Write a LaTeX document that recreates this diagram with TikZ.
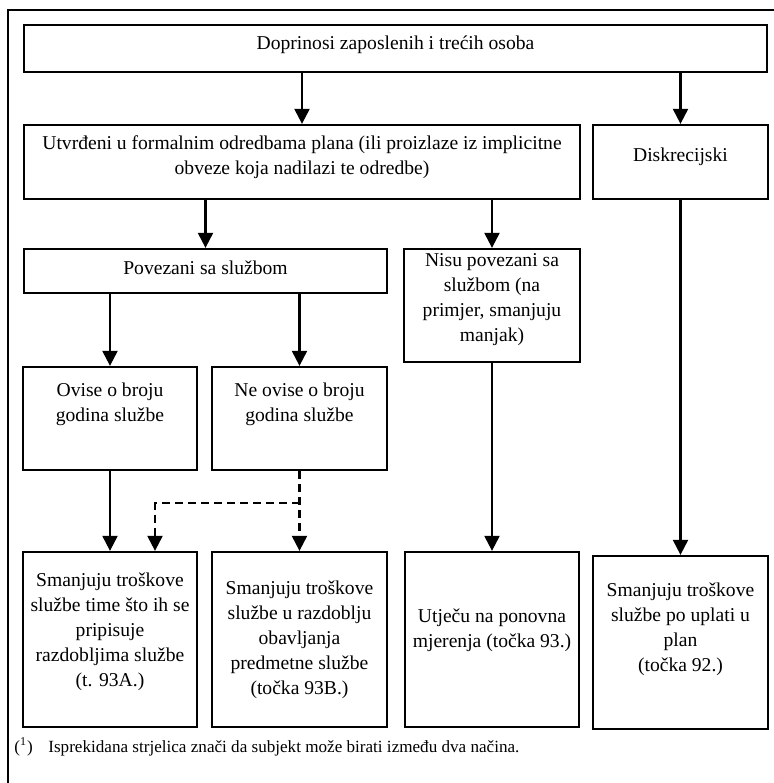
\documentclass[tikz,border=0pt]{standalone}
\usepackage{fontspec}
\setmainfont{Liberation Serif}
\usepackage{tikz}
\usetikzlibrary{arrows.meta,calc,positioning}
\tikzset{
  okvir/.style    = {draw, line width=1.15pt, inner sep=0pt},
  tekst/.style    = {font=\fontsize{9.8}{12.5}\selectfont, align=center, inner sep=0pt},
  biljeska/.style = {font=\fontsize{8.55}{10}\selectfont, inner sep=0pt, anchor=west},
  strelica/.style = {-{Triangle[length=7.5pt,width=7.5pt]}, line width=1.1pt},
  crtkana/.style  = {strelica, dash pattern=on 4pt off 2.5pt},
}

\begin{document}
\begin{tikzpicture}[x=0.5pt,y=-0.5pt]
  \useasboundingbox (0,0) rectangle (774,783);

  % ---- outer frame -------------------------------------------------------
  \draw[line width=1.15pt] (8,783) -- (8,10) -- (774,10);

  % ---- boxes: name / centre x / centre y / width / height ----------------
  \foreach \ime/\x/\y/\w/\h in {dopr/395.5/48.5/371.5/23.5,
      utvr/302/162/278/37, diskr/680.5/162/87.5/37,
      povez/205.5/271/181.5/22, nisu/492/305.5/88/56.5,
      ovise/110/418.5/87/51.5, neovise/299.5/418.5/87.5/51.5,
      atr/110/639.5/87/87.5, btr/299.5/639.5/87.5/87.5,
      utjecu/492/639.5/87/87.5, uplata/680.5/642.5/87.5/86.5} {
    \node[okvir, minimum width=\w pt, minimum height=\h pt] (\ime) at (\x,\y) {};
  }

  % ---- box texts ---------------------------------------------------------
  \node[tekst] (dopr-t) at ([yshift=1.75pt]dopr.center) {Doprinosi zaposlenih i trećih osoba};
  \node[tekst] (utvr-t) at ([yshift=2.25pt]utvr.center)
    {Utvrđeni u formalnim odredbama plana (ili proizlaze iz implicitne\\
     obveze koja nadilazi te odredbe)};
  \node[tekst] (diskr-t) at ([yshift=2.5pt]diskr.center) {Diskrecijski};
  \node[tekst] (povez-t) at ([yshift=1.5pt]povez.center) {Povezani sa službom};
  \node[tekst] (nisu-t) at ([yshift=3pt]nisu.center)
    {Nisu povezani sa\\ službom (na\\ primjer, smanjuju\\ manjak)};
  \node[tekst] (ovise-t) at ([yshift=7pt]ovise.center) {Ovise o broju\\ godina službe};
  \node[tekst] (neovise-t) at ([yshift=7pt]neovise.center) {Ne ovise o broju\\ godina službe};
  \node[tekst] (atr-t) at ([yshift=4pt]atr.center)
    {Smanjuju troškove\\ službe time što ih se\\ pripisuje\\ razdobljima službe\\ (t. 93A.)};
  \node[tekst] (btr-t) at (btr.center)
    {Smanjuju troškove\\ službe u razdoblju\\ obavljanja\\ predmetne službe\\ (točka 93B.)};
  \node[tekst] (utjecu-t) at ([yshift=4.5pt]utjecu.center)
    {Utječu na ponovna\\ mjerenja (točka 93.)};
  \node[tekst] (uplata-t) at ([yshift=6.5pt]uplata.center)
    {Smanjuju troškove\\ službe po uplati u\\ plan\\ (točka 92.)};

  % ---- arrows ------------------------------------------------------------
  \draw[strelica] (utvr.north |- dopr.south) -- (utvr.north);
  \draw[strelica] (diskr.north |- dopr.south) -- (diskr.north);
  \draw[strelica] (povez.north |- utvr.south) -- (povez.north);
  \draw[strelica] (nisu.north |- utvr.south) -- (nisu.north);
  \draw[strelica] (ovise.north |- povez.south) -- (ovise.north);
  \draw[strelica] (neovise.north |- povez.south) -- (neovise.north);
  \draw[strelica] (ovise.south) -- (atr.north);
  \draw[strelica] (nisu.south) -- (utjecu.north);
  \draw[strelica] (diskr.south) -- (uplata.north);

  % dashed choice between the two ways
  \coordinate (razd) at ($(neovise.south)!0.4!(btr.north)$);
  \draw[crtkana] (neovise.south) -- (btr.north);
  \draw[crtkana] (razd) -| ([xshift=22.5pt]atr.north);

  % ---- footnote ----------------------------------------------------------
  \node[biljeska] (fn-oznaka) at (14,747) {(\textsuperscript{1})};
  \node[biljeska] (fn-tekst) at (48,748)
    {Isprekidana strjelica znači da subjekt može birati između dva načina.};
\end{tikzpicture}
\end{document}
